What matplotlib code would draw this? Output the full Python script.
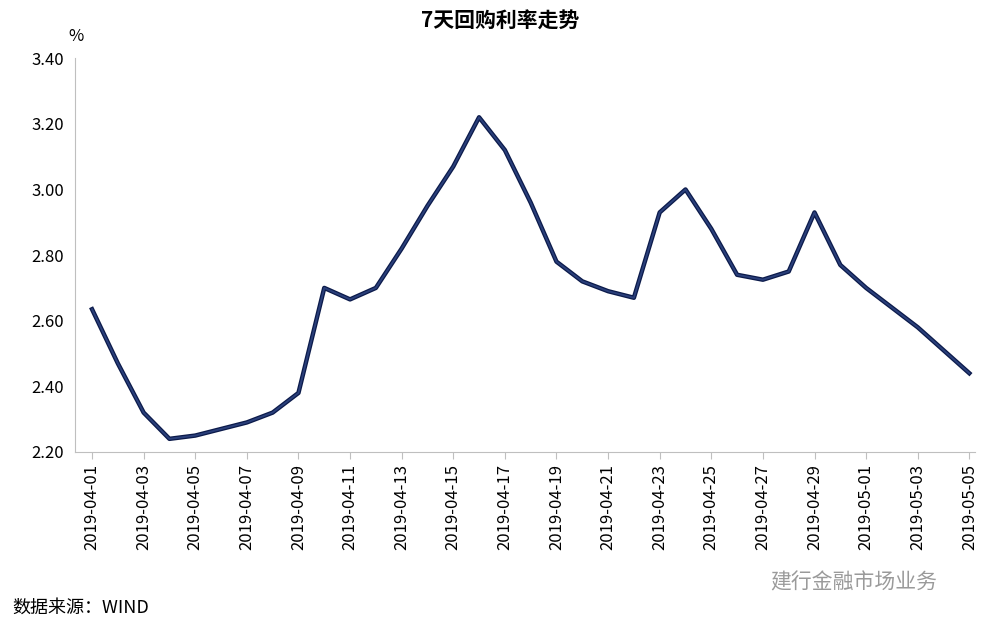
import matplotlib
matplotlib.use("Agg")
import matplotlib.pyplot as plt
import pandas as pd

plt.rcParams['font.family'] = ['Noto Sans CJK SC', 'DejaVu Sans']

dates = pd.date_range("2019-04-01", "2019-05-05", freq="D")
rates = [2.635, 2.47, 2.32, 2.24, 2.25, 2.27, 2.29, 2.32, 2.38, 2.70,
         2.665, 2.70, 2.82, 2.95, 3.07, 3.22, 3.12, 2.96, 2.78, 2.72,
         2.69, 2.67, 2.93, 3.00, 2.88, 2.74, 2.725, 2.75, 2.93, 2.77,
         2.70, 2.64, 2.58, 2.51, 2.44]
tick_labels = [d.strftime("%Y-%m-%d") for d in dates[::2]]

fig = plt.figure(figsize=(10, 6.26), dpi=100)
ax = fig.add_axes([0.075, 0.278, 0.9, 0.629])
x = list(range(len(dates)))
ax.plot(x, rates, color="#0b1a4a", lw=3.2, solid_joinstyle="round")
ax.plot(x, rates, color="#2a3f7a", lw=1.4, solid_joinstyle="round")
ax.set_xlim(-0.66, 34.22)
ax.set_ylim(2.2, 3.4)
ax.set_yticks([2.2 + 0.2 * i for i in range(7)])
ax.set_yticklabels([f"{2.2 + 0.2 * i:.2f}" for i in range(7)], fontsize=12)
ax.set_xticks(x[::2])
ax.set_xticklabels(tick_labels, rotation=90, fontsize=12)
for s in ("top", "right"):
    ax.spines[s].set_visible(False)
for s in ("left", "bottom"):
    ax.spines[s].set_color("#bfbfbf")
ax.tick_params(axis="y", length=0, pad=8)
ax.tick_params(axis="x", length=5, color="#bfbfbf")

fig.text(0.5, 0.955, "7天回购利率走势", ha="center", fontsize=15, fontweight="bold")
fig.text(0.068, 0.935, "%", fontsize=12)
fig.text(0.012, 0.022, "数据来源：WIND", fontsize=13)
fig.text(0.77, 0.06, "建行金融市场业务", fontsize=15, color="#9a9a9a")
fig.savefig("out.png", dpi=100)
